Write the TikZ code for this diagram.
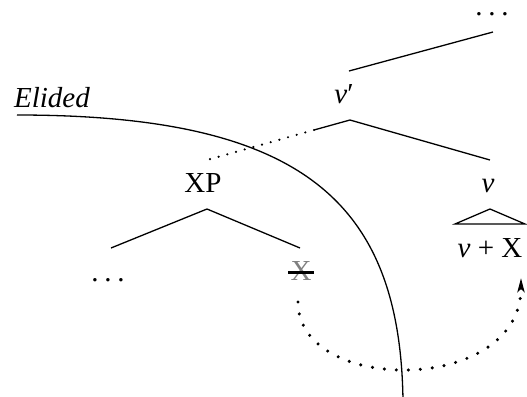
\documentclass[tikz,border=0pt]{standalone}
\usepackage{fontspec}
\setmainfont{Liberation Serif}
\usetikzlibrary{arrows.meta, positioning}

\newcommand{\treedots}{.\hspace{0.2em}.\hspace{0.2em}.}

\begin{document}
\begin{tikzpicture}[
    x=0.5pt, y=-0.5pt,
    lbl/.style={
        anchor=base, inner sep=0pt,
        font=\fontsize{14.5}{17}\selectfont
    },
    branch/.style={line width=0.65pt},
    elidedbranch/.style={
        line width=1.2pt, line cap=round,
        dash pattern=on 0pt off 4.5pt
    },
    boundary/.style={line width=0.65pt},
    move/.style={
        -{Stealth[length=7pt,width=3.5pt,inset=1.5pt]},
        line width=1.7pt, line cap=round,
        dash pattern=on 0pt off 6pt
    },
]
\useasboundingbox (0,0) rectangle (527,397);

% LABELS
\node[lbl] (topdots) at (492,15) {\treedots};
\node[lbl] (vbar) at (344,103) {\textit{v}′};
\node[lbl, font=\fontsize{14.5}{17}\selectfont\itshape] (elided) at (52,107) {Elided};
\node[lbl] (xp) at (203,192) {XP};
\node[lbl] (vhead) at (488,192) {\textit{v}};
\node[lbl] (vx) at (490,257) {\textit{v} + X};
\node[lbl] (ldots) at (108,281) {\treedots};
\node[lbl, text=gray] (xtrace) at (301,280) {X};

% BRANCH ENDS
\coordinate (vbar-up) at (349,71);
\coordinate (topdots-dn) at (493,32);
\coordinate (vbar-dn) at (350,120);
\coordinate (cut) at (314,130);
\coordinate (xp-up) at (207,160);
\coordinate (vhead-up) at (490,160);
\coordinate (xp-dn) at (207,209);
\coordinate (ldots-up) at (111,248);
\coordinate (xtrace-up) at (300,248);
\coordinate (vhead-dn) at (490,209);
\coordinate (tri-l) at (455,224);
\coordinate (tri-r) at (525,224);
\coordinate (xtrace-dn) at (298,302);
\coordinate (vx-dn) at (521,278);
\coordinate (bound-start) at (17,115);
\coordinate (bound-end) at (403,400);

% TREE
\draw[branch] (vbar-up) -- (topdots-dn);
\draw[branch] (cut) -- (vbar-dn) -- (vhead-up);
\draw[elidedbranch] (cut) -- (xp-up);
\draw[branch] (ldots-up) -- (xp-dn) -- (xtrace-up);
\draw[branch] (vhead-dn) -- (tri-r) -- (tri-l) -- cycle;

% struck-out copy
\draw[line width=1.3pt] ([shift={(-2,2)}]xtrace.west) -- ([shift={(2,2)}]xtrace.east);

% ellipsis boundary
\draw[boundary] (bound-start) .. controls (300,115) and (400,200) .. (bound-end);

% head movement
\draw[move] (xtrace-dn) .. controls (298,395) and (521,395) .. (vx-dn);

\end{tikzpicture}
\end{document}
